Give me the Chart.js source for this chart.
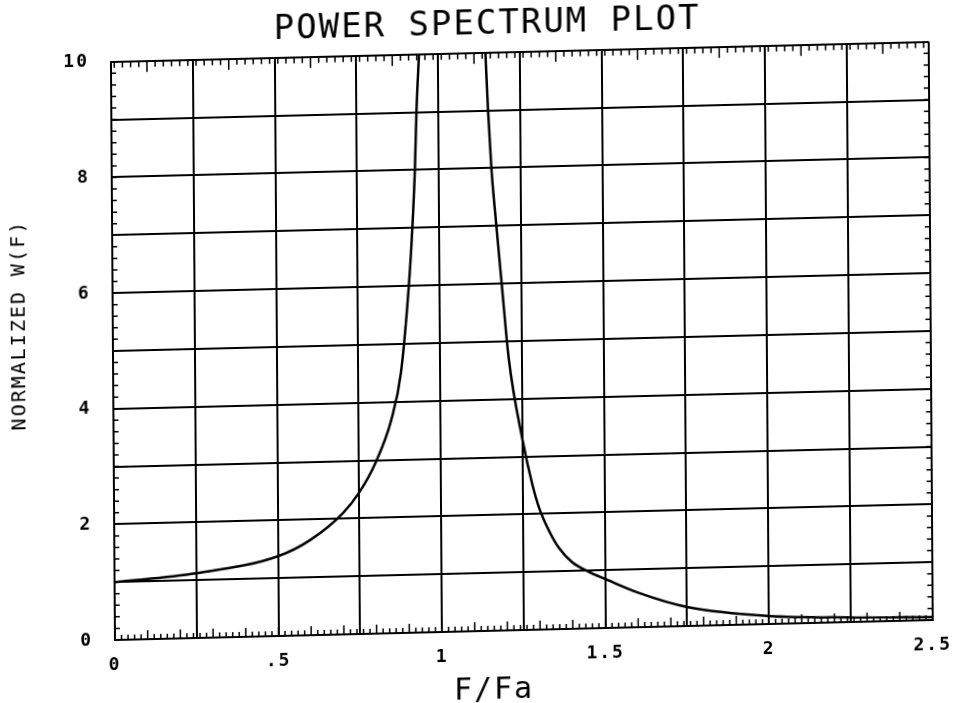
<!DOCTYPE html>
<html>
<head>
<meta charset="utf-8">
<title>Power Spectrum Plot</title>
<script src="https://cdn.jsdelivr.net/npm/chart.js@4.4.1/dist/chart.umd.min.js"></script>
<style>
html, body { margin: 0; padding: 0; background: #fff; width: 964px; height: 703px; overflow: hidden; }
/* the plot sheet sits a little crooked on the page */
#sheet { position: absolute; left: 0; top: 0; width: 964px; height: 730px;
  transform-origin: 115px 640px; transform: rotate(-0.4deg) skewY(-1deg); }
#spectrum { display: block; }
</style>
</head>
<body>
<div id="sheet"><canvas id="spectrum" width="964" height="730"></canvas></div>
<script>
// F/Fa below resonance, with normalized W(F)
var freqBelow = [0, 0.25, 0.5, 0.6, 0.7, 0.75, 0.8, 0.85, 0.88, 0.906, 0.918, 0.927, 0.933, 0.942];
var powerBelow = [1.0, 1.12, 1.38, 1.65, 2.1, 2.45, 2.95, 3.7, 4.5, 6.0, 7.0, 8.0, 9.0, 10.0];
// F/Fa above resonance
var freqAbove = [1.145, 1.152, 1.161, 1.175, 1.19, 1.21, 1.25, 1.28, 1.3, 1.33, 1.36, 1.4, 1.45, 1.5, 1.6, 1.75, 2.0, 2.25, 2.5];
var powerAbove = [10, 9, 8, 7, 6, 4.7, 3.3, 2.5, 2.1, 1.7, 1.4, 1.15, 0.98, 0.85, 0.6, 0.33, 0.14, 0.08, 0.05];

var xTickValues = [0, 0.5, 1, 1.5, 2, 2.5];
var xTickLabels = ['0', '.5', '1', '1.5', '2', '2.5'];
var yTickValues = [0, 2, 4, 6, 8, 10];
var yTickLabels = ['0', '2', '4', '6', '8', '10'];

function toPoints(xs, ys) {
	var pts = [];
	for (var i = 0; i < xs.length; i++) pts.push({x: xs[i], y: ys[i]});
	return pts;
}

function labelFor(values, labels, v) {
	for (var i = 0; i < values.length; i++) {
		if (Math.abs(values[i] - v) < 1e-6) return labels[i];
	}
	return '';
}

var plotFont = '"DejaVu Sans Mono", "Liberation Mono", monospace';

// wider letter spacing, like the pen plotter lettering
var penLettering = {
	id: 'penLettering',
	beforeDraw: function(chart) {
		chart.ctx.letterSpacing = '2px';
	}
};

// small tick marks along the inside of the frame
var frameTicks = {
	id: 'frameTicks',
	afterDraw: function(chart) {
		var ctx = chart.ctx, area = chart.chartArea;
		var xs = chart.scales.x, ys = chart.scales.y;
		ctx.save();
		ctx.strokeStyle = '#000';
		ctx.lineWidth = 1.5;
		ctx.beginPath();
		for (var i = 0; i <= 125; i++) {
			var bx = xs.getPixelForValue(i * 0.02);
			var bl = (i % 5 === 0) ? 9 : 5;
			ctx.moveTo(bx, area.bottom);
			ctx.lineTo(bx, area.bottom - bl);
		}
		for (var k = 0; k < 100; k++) {
			var tx = xs.getPixelForValue(0.01 + k * 0.025);
			var tl = (k % 10 === 4) ? 11 : 6;
			ctx.moveTo(tx, area.top);
			ctx.lineTo(tx, area.top + tl);
		}
		for (var j = 0; j <= 50; j++) {
			var py = ys.getPixelForValue(j * 0.2);
			ctx.moveTo(area.left, py);
			ctx.lineTo(area.left + 5, py);
			ctx.moveTo(area.right, py);
			ctx.lineTo(area.right - 5, py);
		}
		ctx.stroke();
		ctx.restore();
	}
};

var whitePage = {
	id: 'whitePage',
	beforeDraw: function(chart) {
		var ctx = chart.ctx;
		ctx.save();
		ctx.fillStyle = '#fff';
		ctx.fillRect(0, 0, chart.width, chart.height);
		ctx.restore();
	}
};

var ctx = document.getElementById('spectrum').getContext('2d');
var chart = new Chart(ctx, {
	type: 'line',
	data: {
		datasets: [{
			data: toPoints(freqBelow, powerBelow),
			borderColor: '#000',
			borderWidth: 2.5,
			pointRadius: 0,
			cubicInterpolationMode: 'monotone'
		}, {
			data: toPoints(freqAbove, powerAbove),
			borderColor: '#000',
			borderWidth: 2.5,
			pointRadius: 0,
			cubicInterpolationMode: 'monotone'
		}]
	},
	options: {
		responsive: false,
		animation: false,
		layout: { padding: { left: 0, right: 26, top: 0, bottom: 0 } },
		plugins: {
			legend: { display: false },
			tooltip: { enabled: false },
			title: {
				display: true,
				text: '  POWER SPECTRUM PLOT',
				color: '#000',
				font: { family: plotFont, size: 34, weight: 'normal', lineHeight: 1.2 },
				padding: { top: 14, bottom: 7 }
			}
		},
		scales: {
			x: {
				type: 'linear',
				min: 0,
				max: 2.5,
				afterFit: function(scale) { scale.height = 90; },
				ticks: {
					stepSize: 0.25,
					autoSkip: false,
					maxRotation: 0,
					padding: 15,
					color: '#000',
					font: { family: plotFont, size: 18, weight: 'bold' },
					callback: function(v) { return labelFor(xTickValues, xTickLabels, v); }
				},
				grid: { color: '#000', lineWidth: 2, drawTicks: false },
				border: { color: '#000', width: 2 },
				title: {
					display: true,
					text: 'F/Fa   ',
					color: '#000',
					font: { family: plotFont, size: 30, weight: 'normal', lineHeight: 1.2 },
					padding: { top: 0, bottom: 12 }
				}
			},
			y: {
				min: 0,
				max: 10,
				afterFit: function(scale) { scale.width = 115; },
				ticks: {
					stepSize: 1,
					autoSkip: false,
					padding: 22,
					color: '#000',
					font: { family: plotFont, size: 18, weight: 'bold' },
					callback: function(v) { return labelFor(yTickValues, yTickLabels, v); }
				},
				grid: { color: '#000', lineWidth: 2, drawTicks: false },
				border: { color: '#000', width: 2 },
				title: {
					display: true,
					text: '    NORMALIZED W(F)',
					color: '#000',
					font: { family: plotFont, size: 20, weight: 'normal', lineHeight: 1.2 },
					padding: { top: 10, bottom: 0 }
				}
			}
		}
	},
	plugins: [whitePage, penLettering, frameTicks]
});
</script>
</body>
</html>
